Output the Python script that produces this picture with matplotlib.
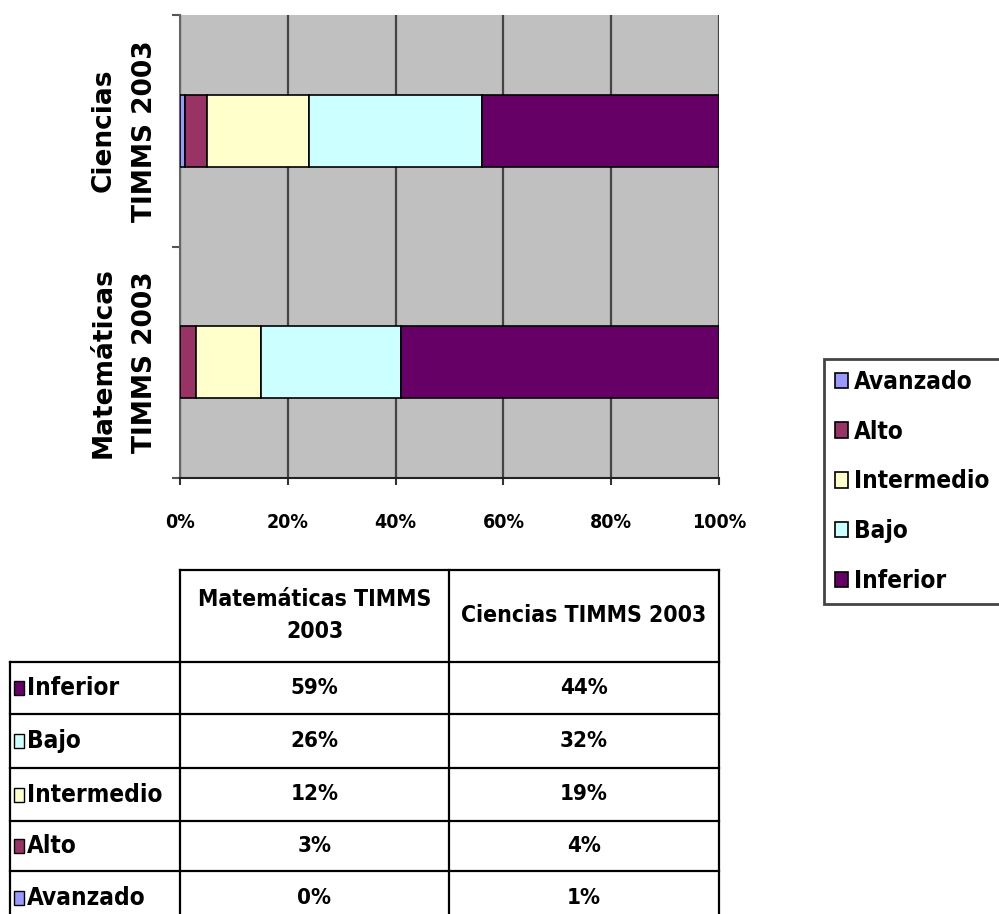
import matplotlib.pyplot as plt
import matplotlib.patches as mpatches
import numpy as np

# datos
niveles = ['Avanzado', 'Alto', 'Intermedio', 'Bajo', 'Inferior']
colores = ['#9999FF', '#993366', '#FFFFCC', '#CCFFFF', '#660066']
categorias = ['Matemáticas\nTIMMS 2003', 'Ciencias\nTIMMS 2003']
matematicas = [0, 3, 12, 26, 59]
ciencias = [1, 4, 19, 32, 44]
encabezados = ['Matemáticas TIMMS\n2003', 'Ciencias TIMMS 2003']
ticks_x = [0, 20, 40, 60, 80, 100]

fuente = 'DejaVu Sans'

W, H = 999, 914
fig = plt.figure(figsize=(W / 100, H / 100), dpi=100)
ax = fig.add_axes([180 / W, 1 - 478 / H, (719 - 180) / W, (478 - 15) / H])
ax.set_facecolor('#C0C0C0')

valores = np.array([matematicas, ciencias])
y = np.arange(len(categorias))
izq = np.zeros(len(categorias))
for i, nivel in enumerate(niveles):
    ax.barh(y, valores[:, i], left=izq, height=0.31, color=colores[i],
            edgecolor='black', linewidth=1.2, label=nivel, zorder=3)
    izq += valores[:, i]

ax.set_xlim(0, 100)
ax.set_ylim(-0.5, 1.5)
ax.set_xticks(ticks_x)
ax.set_xticklabels([f'{t}%' for t in ticks_x], fontfamily=fuente,
                   fontstretch='condensed', fontweight='bold', fontsize=14)
ax.set_yticks(y)
ax.set_yticklabels(categorias, rotation=90, va='center', ha='center',
                   fontfamily='DejaVu Sans', fontweight='bold', fontsize=19,
                   linespacing=1.75)
ax.tick_params(axis='y', length=0, pad=40)
ax.set_yticks([-0.5, 0.5, 1.5], minor=True)
ax.tick_params(axis='y', which='minor', length=6, width=1.5, color='#555555')
ax.tick_params(axis='x', length=5, width=1.5, color='#333333', pad=20)
ax.grid(axis='x', color='#444444', linewidth=1.6, zorder=1)
ax.spines['top'].set_visible(False)
ax.spines['right'].set_visible(False)
ax.spines['left'].set_color('#666666')
ax.spines['left'].set_linewidth(1.5)
ax.spines['bottom'].set_color('#222222')
ax.spines['bottom'].set_linewidth(1.5)

handles, labels = ax.get_legend_handles_labels()
leg = fig.legend(handles, labels, loc='upper left',
                 bbox_to_anchor=(824 / W, 1 - 359 / H), borderaxespad=0,
                 prop={'family': fuente, 'stretch': 'condensed',
                       'weight': 'bold', 'size': 17.5},
                 handlelength=0.55, handleheight=0.6, handletextpad=0.25,
                 labelspacing=1.06, borderpad=0.45, fancybox=False,
                 edgecolor='#444444', framealpha=1)
leg.get_frame().set_linewidth(2)

# tabla
tab = fig.add_axes([0, 0, 1, 1])
tab.set_xlim(0, W)
tab.set_ylim(H, 0)
tab.axis('off')
x_cols = [10, 180, 449, 719]
y_filas = [570, 662, 714, 768, 821, 871, 925]
lc = dict(color='black', linewidth=1.6)
tab.plot([x_cols[1], x_cols[3]], [y_filas[0]] * 2, **lc)
for yy in y_filas[1:6]:
    tab.plot([x_cols[0], x_cols[3]], [yy] * 2, **lc)
tab.plot([x_cols[0]] * 2, [y_filas[1], H], **lc)
for xx in x_cols[1:]:
    tab.plot([xx] * 2, [y_filas[0], H], **lc)

estilo = dict(fontfamily=fuente, fontstretch='condensed', fontweight='bold')
for j, enc in enumerate(encabezados):
    tab.text((x_cols[j + 1] + x_cols[j + 2]) / 2, (y_filas[0] + y_filas[1]) / 2,
             enc, ha='center', va='center', fontsize=16.5, linespacing=1.5,
             **estilo)

orden = list(range(len(niveles)))[::-1]
for r, i in enumerate(orden):
    yc = (y_filas[r + 1] + y_filas[r + 2]) / 2
    tab.add_patch(mpatches.Rectangle((14, yc - 7), 10, 14, facecolor=colores[i],
                                     edgecolor='black', linewidth=1))
    tab.text(27, yc, niveles[i], ha='left', va='center', fontsize=17.5, **estilo)
    for j, serie in enumerate([matematicas, ciencias]):
        tab.text((x_cols[j + 1] + x_cols[j + 2]) / 2, yc, f'{serie[i]}%',
                 ha='center', va='center', fontsize=16, **estilo)

fig.savefig('out.png', dpi=100)
